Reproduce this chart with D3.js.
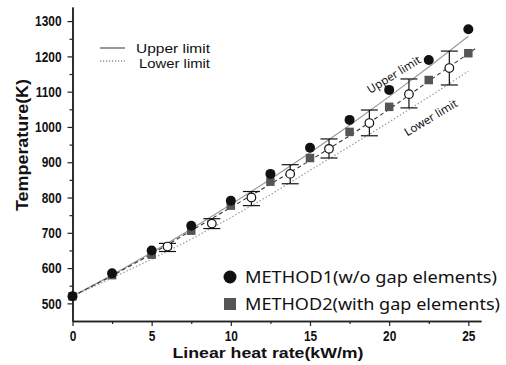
<!DOCTYPE html>
<html>
<head>
<meta charset="utf-8">
<script src="https://cdn.jsdelivr.net/npm/d3@7"></script>
<style>
  html, body { margin: 0; padding: 0; background: #fff; }
  svg { display: block; }
</style>
</head>
<body>
<div id="chart"></div>
<script>
// ---------------------------------------------------------------------------
// Data
// ---------------------------------------------------------------------------
const heatRate   = [0, 2.5, 5, 7.5, 10, 12.5, 15, 17.5, 20, 22.5, 25];
const method1    = [520, 585, 650, 720, 791, 867, 941, 1020, 1105, 1190, 1277];
const method2    = [520, 580, 638, 706, 777, 845, 912, 986, 1057, 1133, 1209];

// upper / lower limit curves
const limitX     = [0, 2.5, 5, 7.5, 10, 12.5, 15, 17.5, 20, 22.5, 25];
const upperLimit = [520, 580, 644, 711, 780, 852, 927, 1005, 1086, 1170, 1257];
const lowerLimit = [520, 572, 625, 682, 743, 808, 877, 945, 1014, 1085, 1158];

// dashed mean line
const meanX      = [0, 2.5, 5, 7.5, 10, 12.5, 15, 17.5, 20, 22.5, 25, 25.5];
const meanLine   = [520, 578, 640, 706, 772, 838, 905, 975, 1050, 1130, 1208, 1224];

// open circles with error bars
const errX       = [6.0, 8.8, 11.3, 13.75, 16.2, 18.75, 21.25, 23.8];
const errMean    = [661, 726, 800, 867, 938, 1011, 1093, 1167];
const errHigh    = [670, 740, 817, 893, 966, 1048, 1136, 1215];
const errLow     = [647, 712, 777, 839, 912, 975, 1054, 1119];

const xTicks      = [0, 5, 10, 15, 20, 25];
const xMinorTicks = [2.5, 7.5, 12.5, 17.5, 22.5];
const yTicks      = [500, 600, 700, 800, 900, 1000, 1100, 1200, 1300];
const yMinorTicks = [550, 650, 750, 850, 950, 1050, 1150, 1250];

// ---------------------------------------------------------------------------
// Layout
// ---------------------------------------------------------------------------
const W = 506, H = 365;
const boldFont = '"Liberation Sans", Arial, sans-serif';
const textFont = '"Noto Sans", "Open Sans", Arial, sans-serif';

const x = d3.scaleLinear().domain([0, 25.8]).range([72.5, 481]);
const y = d3.scaleLinear().domain([450, 1340]).range([321, 7]);

const svg = d3.select('#chart').append('svg')
  .attr('width', W)
  .attr('height', H);

// squeeze a text horizontally (reference uses a condensed bold face)
function condense(sel, factor) {
  sel.each(function () {
    const len = this.getComputedTextLength();
    if (len > 0) {
      d3.select(this).attr('textLength', len * factor).attr('lengthAdjust', 'spacingAndGlyphs');
    }
  });
}

// ── Axes ────────────────────────────────────────────────────────────────
svg.append('g')
  .attr('class', 'axis')
  .attr('transform', `translate(0,${y(450)})`)
  .call(d3.axisBottom(x).tickValues(xTicks).tickSize(5).tickSizeOuter(0).tickPadding(5)
    .tickFormat(d3.format('d')));
svg.append('g')
  .attr('transform', `translate(0,${y(450)})`)
  .call(d3.axisBottom(x).tickValues(xMinorTicks).tickSize(3).tickSizeOuter(0).tickFormat(''));

svg.append('g')
  .attr('class', 'axis')
  .attr('transform', `translate(${x(0)},0)`)
  .call(d3.axisLeft(y).tickValues(yTicks).tickSize(5).tickSizeOuter(0).tickPadding(6)
    .tickFormat(d3.format('d')));
svg.append('g')
  .attr('transform', `translate(${x(0)},0)`)
  .call(d3.axisLeft(y).tickValues(yMinorTicks).tickSize(3).tickSizeOuter(0).tickFormat(''));

svg.selectAll('.domain').attr('stroke', '#222').attr('stroke-width', 1.5);
svg.selectAll('.tick line').attr('stroke', '#222').attr('stroke-width', 1.2);
svg.selectAll('.axis .tick text')
  .attr('font-family', boldFont)
  .attr('font-weight', 'bold')
  .attr('font-size', '14.5px')
  .attr('fill', '#111')
  .call(condense, 0.82);

// axis titles
svg.append('text')
  .attr('x', 268).attr('y', 358)
  .attr('text-anchor', 'middle')
  .attr('font-family', boldFont)
  .attr('font-weight', 'bold')
  .attr('font-size', '15px')
  .attr('fill', '#111')
  .attr('textLength', 191).attr('lengthAdjust', 'spacingAndGlyphs')
  .text('Linear heat rate(kW/m)');

svg.append('text')
  .attr('transform', 'translate(28,145) rotate(-90)')
  .attr('text-anchor', 'middle')
  .attr('font-family', boldFont)
  .attr('font-weight', 'bold')
  .attr('font-size', '16px')
  .attr('fill', '#111')
  .attr('textLength', 132).attr('lengthAdjust', 'spacingAndGlyphs')
  .text('Temperature(K)');

// ── Lines ───────────────────────────────────────────────────────────────
const line = d3.line().x(d => x(d[0])).y(d => y(d[1]));

svg.append('path')
  .datum(limitX.map((v, i) => [v, upperLimit[i]]))
  .attr('d', line)
  .attr('fill', 'none')
  .attr('stroke', '#9a9a9a')
  .attr('stroke-width', 1.2);

svg.append('path')
  .datum(limitX.map((v, i) => [v, lowerLimit[i]]))
  .attr('d', line)
  .attr('fill', 'none')
  .attr('stroke', '#9a9a9a')
  .attr('stroke-width', 1.2)
  .attr('stroke-dasharray', '1.5,2');

svg.append('path')
  .datum(meanX.map((v, i) => [v, meanLine[i]]))
  .attr('d', line)
  .attr('fill', 'none')
  .attr('stroke', '#333')
  .attr('stroke-width', 1.1)
  .attr('stroke-dasharray', '4,3');

// ── Error bars + open circles ───────────────────────────────────────────
const capW = 8.5;
const eb = svg.append('g').attr('stroke', '#111').attr('stroke-width', 1.2);
errX.forEach((v, i) => {
  const cx = x(v);
  eb.append('line').attr('x1', cx).attr('x2', cx).attr('y1', y(errHigh[i])).attr('y2', y(errLow[i]));
  eb.append('line').attr('x1', cx - capW).attr('x2', cx + capW).attr('y1', y(errHigh[i])).attr('y2', y(errHigh[i]));
  eb.append('line').attr('x1', cx - capW).attr('x2', cx + capW).attr('y1', y(errLow[i])).attr('y2', y(errLow[i]));
});
svg.append('g').selectAll('circle')
  .data(errX.map((v, i) => [v, errMean[i]]))
  .join('circle')
  .attr('cx', d => x(d[0]))
  .attr('cy', d => y(d[1]))
  .attr('r', 4.3)
  .attr('fill', '#fff')
  .attr('stroke', '#111')
  .attr('stroke-width', 1.2);

// ── Method points ───────────────────────────────────────────────────────
const sq = 8.5;
svg.append('g').selectAll('rect')
  .data(heatRate.map((v, i) => [v, method2[i]]))
  .join('rect')
  .attr('x', d => x(d[0]) - sq / 2)
  .attr('y', d => y(d[1]) - sq / 2)
  .attr('width', sq)
  .attr('height', sq)
  .attr('fill', '#555');

svg.append('g').selectAll('circle')
  .data(heatRate.map((v, i) => [v, method1[i]]))
  .join('circle')
  .attr('cx', d => x(d[0]))
  .attr('cy', d => y(d[1]))
  .attr('r', 5)
  .attr('fill', '#111');

// ── Curve labels ────────────────────────────────────────────────────────
svg.append('text')
  .attr('transform', 'translate(396,78) rotate(-32)')
  .attr('text-anchor', 'middle')
  .attr('font-family', textFont)
  .attr('font-size', '11.5px')
  .attr('fill', '#111')
  .text('Upper limit');

svg.append('text')
  .attr('transform', 'translate(433,121) rotate(-31)')
  .attr('text-anchor', 'middle')
  .attr('font-family', textFont)
  .attr('font-size', '11.5px')
  .attr('fill', '#111')
  .text('Lower limit');

// ── Top-left legend ─────────────────────────────────────────────────────
const lg = svg.append('g');
lg.append('line').attr('x1', 100).attr('x2', 125).attr('y1', 48).attr('y2', 48)
  .attr('stroke', '#555').attr('stroke-width', 1.2);
lg.append('line').attr('x1', 100).attr('x2', 125).attr('y1', 61).attr('y2', 61)
  .attr('stroke', '#555').attr('stroke-width', 1.2).attr('stroke-dasharray', '1.2,1.8');
lg.append('text').attr('x', 136).attr('y', 53)
  .attr('font-family', boldFont).attr('font-size', '12px').attr('fill', '#111')
  .attr('textLength', 74).attr('lengthAdjust', 'spacingAndGlyphs')
  .text('Upper limit');
lg.append('text').attr('x', 139).attr('y', 68)
  .attr('font-family', boldFont).attr('font-size', '12px').attr('fill', '#111')
  .attr('textLength', 71).attr('lengthAdjust', 'spacingAndGlyphs')
  .text('Lower limit');

// ── Bottom legend ───────────────────────────────────────────────────────
const bl = svg.append('g');
bl.append('circle').attr('cx', 230).attr('cy', 277).attr('r', 6.5).attr('fill', '#111');
bl.append('rect').attr('x', 224).attr('y', 298).attr('width', 12).attr('height', 12).attr('fill', '#555');
bl.append('text').attr('x', 245).attr('y', 283)
  .attr('font-family', textFont).attr('font-size', '16px').attr('fill', '#111')
  .attr('textLength', 252).attr('lengthAdjust', 'spacingAndGlyphs')
  .text('METHOD1(w/o gap elements)');
bl.append('text').attr('x', 245).attr('y', 310)
  .attr('font-family', textFont).attr('font-size', '16px').attr('fill', '#111')
  .attr('textLength', 255).attr('lengthAdjust', 'spacingAndGlyphs')
  .text('METHOD2(with gap elements)');
</script>
</body>
</html>
